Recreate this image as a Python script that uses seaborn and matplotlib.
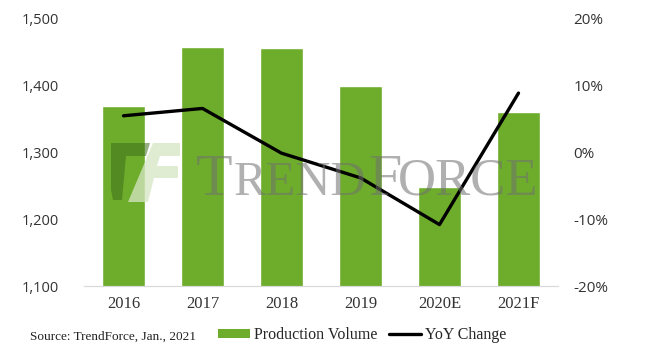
import pandas as pd
import matplotlib.pyplot as plt
import seaborn as sns
from matplotlib.patches import Patch, Polygon
from matplotlib.lines import Line2D
from matplotlib.ticker import FuncFormatter

# --- DATA ---
years = ["2016", "2017", "2018", "2019", "2020E", "2021F"]
production = [1369, 1458, 1456, 1400, 1249, 1360]
yoy_change = [5.5, 6.6, -0.1, -3.8, -10.8, 8.9]

BAR_COLOR = "#6DAD2B"
SERIF = "Liberation Serif"
SANS = "Open Sans"
W, H = 658, 356

df = pd.DataFrame({"year": years, "production": production, "yoy": yoy_change})

sns.set_style("white")

fig = plt.figure(figsize=(W / 100, H / 100), dpi=100)
ax = fig.add_axes([84 / W, 1 - 286 / H, 474 / W, 267 / H])

sns.barplot(data=df, x="year", y="production", color=BAR_COLOR, width=0.55,
            saturation=1, ax=ax, zorder=2)
ax.set_ylim(1100, 1500)
ax.set_yticks([1100, 1200, 1300, 1400, 1500])
ax.yaxis.set_major_formatter(FuncFormatter(lambda v, p: f"{int(v):,}"))
ax.set_xlabel("")
ax.set_ylabel("")

ax2 = ax.twinx()
sns.pointplot(data=df, x="year", y="yoy", color="black", marker="",
              linewidth=2.4, ax=ax2, zorder=3)
ax2.set_ylim(-20, 20)
ax2.set_yticks([-20, -10, 0, 10, 20])
ax2.yaxis.set_major_formatter(FuncFormatter(lambda v, p: f"{int(v)}%"))
ax2.set_ylabel("")
ax2.set_xlabel("")

for a in (ax, ax2):
    for side in ("top", "left", "right"):
        a.spines[side].set_visible(False)
    a.spines["bottom"].set_color("#d9d9d9")
    a.tick_params(length=0)

ax.tick_params(axis="y", labelsize=10.5, colors="#333333", pad=18)
ax2.tick_params(axis="y", labelsize=11, colors="#333333", pad=11)
for lbl in ax.get_yticklabels() + ax2.get_yticklabels():
    lbl.set_family(SANS)
ax.tick_params(axis="x", labelsize=12, colors="#333333", pad=7)
for lbl in ax.get_xticklabels():
    lbl.set_family(SERIF)


def fig_poly(pts, color, alpha):
    # pixel coordinates (top-left origin) -> figure fraction
    xy = [(x / W, 1 - y / H) for x, y in pts]
    fig.patches.append(Polygon(xy, closed=True, transform=fig.transFigure,
                               facecolor=color, edgecolor="none",
                               alpha=alpha, zorder=5))


# faded watermark logo
fig_poly([(111, 143), (150, 143), (146, 156), (126, 156), (122, 200),
          (113, 200), (111, 190)], "#3f6e1c", 0.55)
fig_poly([(153, 143), (180, 143), (180, 156), (160, 156), (157, 166),
          (178, 166), (178, 178), (154, 178), (148, 202), (128, 202)],
         "#d6e6c4", 0.75)

# faded watermark text (small caps built from two sizes)
wm = dict(family=SERIF, color="#6f6f6f", alpha=0.55, va="baseline", ha="left")
fig.text(196 / W, 1 - 195 / H, "T", fontsize=43, **wm)
fig.text(234 / W, 1 - 195 / H, "REND", fontsize=35, **wm)
fig.text(368 / W, 1 - 195 / H, "F", fontsize=43, **wm)
fig.text(398 / W, 1 - 195 / H, "ORCE", fontsize=38, **wm)

# source note and legend
fig.text(30 / W, 1 - 337 / H, "Source: TrendForce, Jan., 2021",
         fontsize=9.5, family=SERIF, color="#222222", va="center")
handles = [Patch(facecolor=BAR_COLOR, edgecolor="none"),
           Line2D([0], [0], color="black", linewidth=2.4)]
fig.legend(handles, ["Production Volume", "YoY Change"], loc="center left",
           bbox_to_anchor=(207 / W, 1 - 335 / H), ncol=2, frameon=False,
           prop={"family": SERIF, "size": 11.5}, handlelength=2.0,
           handleheight=0.55, handletextpad=0.25, columnspacing=0.7,
           borderpad=0.2)

fig.savefig("out.png", dpi=100)
